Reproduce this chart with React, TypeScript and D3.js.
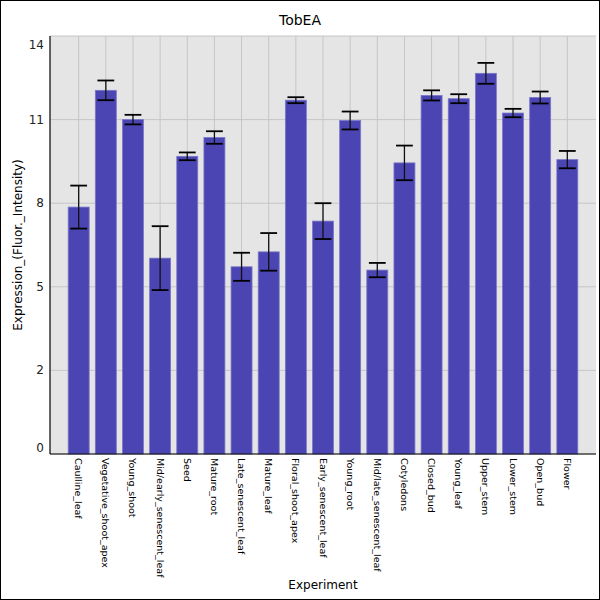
import * as d3 from "d3"

const categories = [
  "Caulline_leaf",
  "Vegetative_shoot_apex",
  "Young_shoot",
  "Mid/early_senescent_leaf",
  "Seed",
  "Mature_root",
  "Late_senescent_leaf",
  "Mature_leaf",
  "Floral_shoot_apex",
  "Early_senescent_leaf",
  "Young_root",
  "Mid/late_senescent_leaf",
  "Cotyledons",
  "Closed_bud",
  "Young_leaf",
  "Upper_stem",
  "Lower_stem",
  "Open_bud",
  "Flower",
]

const means = [
  8.27, 12.18, 11.2, 6.56, 9.97, 10.6, 6.27, 6.77, 11.85, 7.8, 11.17, 6.16, 9.75, 12.01, 11.9, 12.75, 11.42, 11.94,
  9.86,
]

const errors = [
  0.72, 0.33, 0.16, 1.07, 0.13, 0.21, 0.47, 0.63, 0.1, 0.6, 0.3, 0.24, 0.58, 0.17, 0.15, 0.35, 0.14, 0.2, 0.29,
]

const yTicks = [0, 2.8, 5.6, 8.4, 11.2, 14]

const title = "TobEA"
const xTitle = "Experiment"
const yTitle = "Expression_(Fluor._Intensity)"

export default function App() {
  const width = 600
  const height = 600
  const margin = { top: 36, right: 4, bottom: 146, left: 50 }
  const innerW = width - margin.left - margin.right
  const innerH = height - margin.top - margin.bottom

  const x = d3
    .scaleBand<string>()
    .domain(categories)
    .range([0, innerW])
    .paddingInner(0.227)
    .paddingOuter(0.67)

  const y = d3.scaleLinear().domain([0, 14]).range([innerH, 0])

  const font = "DejaVu Sans, sans-serif"
  const bw = x.bandwidth()
  const capW = bw * 0.8

  return (
    <svg
      width={width}
      height={height}
      style={{ position: "absolute", left: 0, top: 0, background: "#fff" }}
      fontFamily={font}
    >
      <rect x={0.5} y={0.5} width={width - 1} height={height - 1} fill="#fff" stroke="#000" />

      {/* Title */}
      <text x={width / 2} y={25} textAnchor="middle" fontSize={14} fill="#000">
        {title}
      </text>

      <g transform={`translate(${margin.left},${margin.top})`}>
        {/* Plot background */}
        <rect x={0} y={0} width={innerW} height={innerH} fill="#e5e5e5" />

        {/* Gridlines */}
        {yTicks.map((t) => (
          <line key={"gy" + t} x1={0} x2={innerW} y1={y(t)} y2={y(t)} stroke="#c6c6c6" strokeWidth={1} />
        ))}
        {categories.map((c) => (
          <line
            key={"gx" + c}
            x1={(x(c) as number) + bw / 2}
            x2={(x(c) as number) + bw / 2}
            y1={0}
            y2={innerH}
            stroke="#c6c6c6"
            strokeWidth={1}
          />
        ))}

        {/* Bars */}
        {categories.map((c, i) => (
          <rect
            key={"b" + c}
            x={x(c) as number}
            y={y(means[i])}
            width={bw}
            height={innerH - y(means[i])}
            fill="#4a45b2"
            stroke="#7b77c9"
            strokeWidth={0.8}
          />
        ))}

        {/* Error bars */}
        {categories.map((c, i) => {
          const cx = (x(c) as number) + bw / 2
          const hi = y(means[i] + errors[i])
          const lo = y(means[i] - errors[i])
          return (
            <g key={"e" + c}>
              <line x1={cx} x2={cx} y1={hi} y2={lo} stroke="#111" strokeWidth={1.3} />
              <line x1={cx - capW / 2} x2={cx + capW / 2} y1={hi} y2={hi} stroke="#000" strokeWidth={1.8} />
              <line x1={cx - capW / 2} x2={cx + capW / 2} y1={lo} y2={lo} stroke="#000" strokeWidth={1.8} />
            </g>
          )
        })}

        {/* Axes lines */}
        <line x1={0} x2={0} y1={0} y2={innerH} stroke="#000" strokeWidth={1.2} />
        <line x1={0} x2={innerW} y1={innerH} y2={innerH} stroke="#000" strokeWidth={1.2} />

        {/* Y tick labels (truncated like the source) */}
        {yTicks.map((t) => {
          const yy = Math.min(Math.max(y(t), 9), innerH - 6)
          return (
            <text
              key={"yl" + t}
              x={-6}
              y={yy}
              textAnchor="end"
              dominantBaseline="central"
              fontSize={12}
              fill="#222"
            >
              {Math.floor(t)}
            </text>
          )
        })}

        {/* X tick labels */}
        {categories.map((c) => (
          <text
            key={"xl" + c}
            transform={`translate(${(x(c) as number) + bw / 2},${innerH + 4}) rotate(90)`}
            textAnchor="start"
            dominantBaseline="central"
            fontSize={9.5}
            fill="#000"
          >
            {c}
          </text>
        ))}

        {/* Axis titles */}
        <text x={innerW / 2} y={innerH + 135} textAnchor="middle" fontSize={12} fill="#000">
          {xTitle}
        </text>
        <text
          transform={`translate(${-32},${innerH / 2}) rotate(-90)`}
          textAnchor="middle"
          dominantBaseline="central"
          fontSize={12}
          fill="#000"
        >
          {yTitle}
        </text>
      </g>
    </svg>
  )
}
